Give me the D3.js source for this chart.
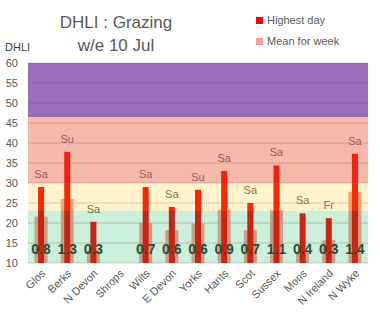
<!DOCTYPE html>
<html>
<head>
<meta charset="utf-8">
<script src="https://cdn.jsdelivr.net/npm/d3@7"></script>
<style>
  body { margin: 0; background: #fff; }
  text { font-family: "Liberation Sans", Arial, sans-serif; }
</style>
</head>
<body>
<svg id="chart" width="380" height="321"></svg>
<script>
"use strict";

const categories = ["Glos","Berks","N Devon","Shrops","Wilts","E Devon","Yorks","Hants","Scot","Sussex","Mons","N Ireland","N Wyke"]
const highestDay = [29, 37.8, 20.3, null, 29, 24, 28.3, 33, 25, 34.4, 22.4, 21.2, 37.3]
const meanWeek = [21.6, 26, 13.2, null, 20, 18.2, 19.9, 23.3, 18.2, 23.2, 12.8, 15.7, 27.8]
const peakDay = ["Sa","Su","Sa","","Sa","Sa","Su","Sa","Sa","Sa","Sa","Fr","Sa"]
const weekIndex = ["0.8","1.3","0.3","","0.7","0.6","0.6","0.9","0.7","1.1","0.4","0.3","1.4"]
const yTicks = [10, 15, 20, 25, 30, 35, 40, 45, 50, 55, 60]
// risk bands: [from, to]
const bandLimits = [[10, 23], [23, 30], [30, 46.5], [46.5, 60]]
const bandColors = ["rgba(0,176,80,0.2)", "rgba(255,192,0,0.2)", "rgba(230,80,45,0.4)", "rgba(112,48,160,0.7)"]

const svg = d3.select("#chart")
const plotLeft = 28, plotRight = 368, plotTop = 63, plotBottom = 263

const x = d3.scaleBand().domain(categories).range([plotLeft, plotRight])
const y = d3.scaleLinear().domain([10, 60]).range([plotBottom, plotTop])

// gridlines
svg.append("g").selectAll("line").data(yTicks).enter()
  .append("line")
  .attr("x1", plotLeft).attr("x2", plotRight)
  .attr("y1", d => y(d)).attr("y2", d => y(d))
  .attr("stroke", "#d0d0d0").attr("stroke-width", 1)

const rows = categories.map((c, i) => ({c, hi: highestDay[i], mean: meanWeek[i], day: peakDay[i], idx: weekIndex[i]}))
  .filter(d => d.hi != null)

// mean for week (wide bars)
svg.append("g").selectAll("rect").data(rows).enter()
  .append("rect")
  .attr("x", d => x(d.c) + x.bandwidth()/2 - 6.5)
  .attr("width", 13)
  .attr("y", d => y(d.mean))
  .attr("height", d => y(10) - y(d.mean))
  .attr("fill", "#f89c96")

// highest day (narrow bars)
svg.append("g").selectAll("rect").data(rows).enter()
  .append("rect")
  .attr("x", d => x(d.c) + x.bandwidth()/2 - 3)
  .attr("width", 6)
  .attr("y", d => y(d.hi))
  .attr("height", d => y(10) - y(d.hi))
  .attr("fill", "#ff0000")

// day of highest value
svg.append("g").selectAll("text").data(rows).enter()
  .append("text")
  .attr("x", d => x(d.c) + x.bandwidth()/2)
  .attr("y", d => y(d.hi) - 9)
  .attr("text-anchor", "middle")
  .attr("font-size", 11)
  .attr("fill", "#666")
  .text(d => d.day)

// weekly index numbers
svg.append("g").selectAll("text").data(rows).enter()
  .append("text")
  .attr("x", d => x(d.c) + x.bandwidth()/2)
  .attr("y", 254)
  .attr("text-anchor", "middle")
  .attr("font-size", 14)
  .attr("font-weight", "bold")
  .attr("fill", "#2c3a32")
  .text(d => d.idx)

// translucent risk bands on top
svg.append("g").selectAll("rect").data(bandLimits).enter()
  .append("rect")
  .attr("x", plotLeft).attr("width", plotRight - plotLeft)
  .attr("y", d => y(d[1]))
  .attr("height", d => y(d[0]) - y(d[1]))
  .attr("fill", (d, i) => bandColors[i])

// y tick labels
svg.append("g").selectAll("text").data(yTicks).enter()
  .append("text")
  .attr("x", 18).attr("y", d => y(d) + 4)
  .attr("text-anchor", "end")
  .attr("font-size", 11)
  .attr("fill", "#595959")
  .text(d => d)

svg.append("text").attr("x", 5).attr("y", 51)
  .attr("font-size", 11).attr("fill", "#404040").text("DHLI")

// x labels
svg.append("g").selectAll("text").data(categories).enter()
  .append("text")
  .attr("transform", d => "translate(" + (x(d) + x.bandwidth()/2 + 5) + ",274) rotate(-45)")
  .attr("text-anchor", "end")
  .attr("font-size", 11)
  .attr("fill", "#595959")
  .text(d => d)

// title
svg.append("text").attr("x", 116).attr("y", 28).attr("text-anchor", "middle")
  .attr("font-size", 17).attr("fill", "#595959").text("DHLI : Grazing")
svg.append("text").attr("x", 116).attr("y", 51).attr("text-anchor", "middle")
  .attr("font-size", 17).attr("fill", "#595959").text("w/e 10 Jul")

// legend
const legendItems = [["Highest day", "#ff0000"], ["Mean for week", "#f89c96"]]
const lg = svg.append("g").selectAll("g").data(legendItems).enter()
  .append("g").attr("transform", (d, i) => "translate(256," + (20 + i * 21) + ")")
lg.append("rect").attr("x", 0).attr("y", -3).attr("width", 7).attr("height", 7).attr("fill", d => d[1])
lg.append("text").attr("x", 11).attr("y", 4).attr("font-size", 11).attr("fill", "#595959").text(d => d[0])
</script>
</body>
</html>
